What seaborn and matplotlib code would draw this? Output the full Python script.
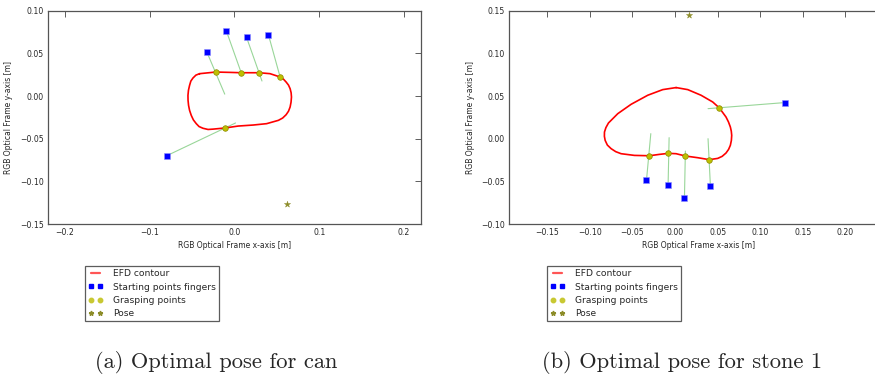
import numpy as np
import pandas as pd
import matplotlib
matplotlib.use("Agg")
import matplotlib.pyplot as plt
import seaborn as sns
from matplotlib.lines import Line2D

# ---------------- data: (a) can ----------------
can_contour_x = [-0.0411, -0.0221, -0.0055, 0.0079, 0.0289, 0.0419, 0.0538, 0.0578, 0.0609, 0.0637,
                 0.0656, 0.0668, 0.0672, 0.0667, 0.0656, 0.0637, 0.0609, 0.0568, 0.0518, 0.0379,
                 0.0221, 0.0043, -0.0115, -0.0253, -0.0312, -0.0372, -0.0418, -0.0451, -0.0485,
                 -0.0510, -0.0530, -0.0542, -0.0548, -0.0549, -0.0543, -0.0530, -0.0515, -0.0490,
                 -0.0455, -0.0411]
can_contour_y = [0.0262, 0.0281, 0.0277, 0.0273, 0.0273, 0.0262, 0.0223, 0.0197, 0.0164, 0.0128,
                 0.0086, 0.0038, -0.0012, -0.0072, -0.0129, -0.0178, -0.0219, -0.0258, -0.0285, -0.0324,
                 -0.0340, -0.0352, -0.0375, -0.0388, -0.0392, -0.0378, -0.0358, -0.0324, -0.0280,
                 -0.0227, -0.0168, -0.0109, -0.0050, 0.0008, 0.0068, 0.0125, 0.0175, 0.0211,
                 0.0245, 0.0262]
can_start_x = [-0.0328, -0.0095, 0.0142, 0.0400, -0.0800]
can_start_y = [0.0520, 0.0760, 0.0688, 0.0719, -0.0700]
can_grasp_x = [-0.0221, 0.0079, 0.0289, 0.0538, -0.0115]
can_grasp_y = [0.0281, 0.0273, 0.0273, 0.0223, -0.0375]
can_end_x = [-0.0115, 0.0079, 0.0324, 0.0538, 0.0012]
can_end_y = [0.0022, 0.0273, 0.0176, 0.0223, -0.0316]
can_pose_x = [0.0620]
can_pose_y = [-0.1260]

# ---------------- data: (b) stone 1 ----------------
stone_contour_x = [0.0012, 0.0149, 0.0305, 0.0442, 0.0520, 0.0598, 0.0627, 0.0649, 0.0660, 0.0665,
                   0.0661, 0.0649, 0.0628, 0.0598, 0.0553, 0.0501, 0.0403, 0.0266, 0.0121, 0.0012,
                   -0.0078, -0.0184, -0.0301, -0.0477, -0.0634, -0.0697, -0.0751, -0.0795, -0.0821,
                   -0.0830, -0.0829, -0.0812, -0.0782, -0.0673, -0.0516, -0.0321, -0.0145, 0.0012]
stone_contour_y = [0.0599, 0.0575, 0.0509, 0.0430, 0.0360, 0.0254, 0.0196, 0.0137, 0.0088, 0.0039,
                   -0.0020, -0.0078, -0.0126, -0.0168, -0.0207, -0.0231, -0.0246, -0.0223, -0.0203, -0.0176,
                   -0.0172, -0.0184, -0.0200, -0.0196, -0.0176, -0.0152, -0.0117, -0.0075, -0.0020,
                   0.0028, 0.0078, 0.0130, 0.0184, 0.0293, 0.0403, 0.0509, 0.0575, 0.0599]
stone_start_x = [-0.0336, -0.0082, 0.0110, 0.0415, 0.1287]
stone_start_y = [-0.0489, -0.0540, -0.0696, -0.0556, 0.0423]
stone_grasp_x = [-0.0301, -0.0078, 0.0121, 0.0403, 0.0520]
stone_grasp_y = [-0.0200, -0.0172, -0.0203, -0.0246, 0.0360]
stone_end_x = [-0.0285, -0.0070, 0.0121, 0.0387, 0.0387]
stone_end_y = [0.0059, 0.0012, -0.0145, 0.0000, 0.0352]
stone_pose_x = [0.0164]
stone_pose_y = [0.1451]

legend_labels = ["EFD contour", "Starting points fingers", "Grasping points", "Pose"]
captions = ["(a) Optimal pose for can", "(b) Optimal pose for stone 1"]

sns.set_style("white")
plt.rcParams["font.family"] = ["DejaVu Sans"]

fig = plt.figure(figsize=(8.75, 3.74), dpi=100)
axL = fig.add_axes([48 / 875, 150 / 374, 373 / 875, 213.3 / 374])
axR = fig.add_axes([509 / 875, 150 / 374, 379 / 875, 213.3 / 374])

C_RED = "#ff0000"
C_BLUE = "#0000ff"
C_GRASP = "#bfbf00"
C_GRASP_E = "#8a8a00"
C_POSE = "#8c8c28"
C_GREEN = "#99d699"


def draw(ax, cx, cy, sx, sy, gx, gy, ex, ey, px, py, ylab_x):
    for i in range(len(sx)):
        seg = pd.DataFrame({"x": [sx[i], ex[i]], "y": [sy[i], ey[i]]})
        sns.lineplot(data=seg, x="x", y="y", ax=ax, sort=False, color=C_GREEN,
                     lw=0.8, estimator=None, zorder=2)
    cdf = pd.DataFrame({"x": cx, "y": cy})
    sns.lineplot(data=cdf, x="x", y="y", ax=ax, sort=False, color=C_RED, lw=1.2,
                 estimator=None, zorder=3)
    sns.scatterplot(x=sx, y=sy, ax=ax, marker="s", color=C_BLUE, s=16,
                    edgecolor="#9090ff", linewidth=0.4, zorder=4)
    sns.scatterplot(x=gx, y=gy, ax=ax, marker="o", color=C_GRASP, s=16,
                    edgecolor=C_GRASP_E, linewidth=0.5, zorder=5)
    sns.scatterplot(x=px, y=py, ax=ax, marker="*", color=C_POSE, s=22,
                    edgecolor=C_POSE, linewidth=0.3, zorder=5)
    ax.set_xlabel("RGB Optical Frame x-axis [m]", fontsize=5.5, labelpad=3)
    ax.set_ylabel("RGB Optical Frame y-axis [m]", fontsize=5.5)
    ax.yaxis.set_label_coords(ylab_x, 0.5)
    ax.tick_params(direction="in", top=True, right=True, labelsize=5.6, length=4,
                   width=0.6, color="#444444", pad=3)
    for sp in ax.spines.values():
        sp.set_color("#555555")
        sp.set_linewidth(0.9)


draw(axL, can_contour_x, can_contour_y, can_start_x, can_start_y, can_grasp_x, can_grasp_y,
     can_end_x, can_end_y, can_pose_x, can_pose_y, (13 - 48) / 373)
draw(axR, stone_contour_x, stone_contour_y, stone_start_x, stone_start_y, stone_grasp_x,
     stone_grasp_y, stone_end_x, stone_end_y, stone_pose_x, stone_pose_y, (475 - 509) / 379)

axL.set_xlim(-0.22, 0.22)
axL.set_ylim(-0.15, 0.10)
axL.set_xticks([-0.2, -0.1, 0.0, 0.1, 0.2])
axL.set_yticks([-0.15, -0.10, -0.05, 0.00, 0.05, 0.10])
axL.set_xticklabels(["\u22120.2", "\u22120.1", "0.0", "0.1", "0.2"])
axL.set_yticklabels(["\u22120.15", "\u22120.10", "\u22120.05", "0.00", "0.05", "0.10"])

axR.set_xlim(-0.195, 0.25)
axR.set_ylim(-0.10, 0.15)
axR.set_xticks([-0.15, -0.10, -0.05, 0.0, 0.05, 0.10, 0.15, 0.20])
axR.set_xticklabels(["\u22120.15", "\u22120.10", "\u22120.05", "0.00", "0.05", "0.10", "0.15", "0.20"])
axR.set_yticks([-0.10, -0.05, 0.00, 0.05, 0.10, 0.15])
axR.set_yticklabels(["\u22120.10", "\u22120.05", "0.00", "0.05", "0.10", "0.15"])

handles = [
    Line2D([0], [0], color="#ff5555", lw=1.6),
    Line2D([0], [0], color=C_BLUE, marker="s", ls="none", ms=3),
    Line2D([0], [0], color="#c8c832", marker="o", ls="none", ms=3.2, mec="#c8c832"),
    Line2D([0], [0], color=C_POSE, marker="*", ls="none", ms=3.5),
]
for xa in (85 / 875, 547 / 875):
    leg = fig.legend(handles, legend_labels, loc="upper left",
                     bbox_to_anchor=(xa, 1 - 266 / 374), fontsize=6.6, numpoints=2,
                     frameon=True, fancybox=False, handlelength=1.6, handletextpad=1.1,
                     borderpad=0.35, labelspacing=0.47, borderaxespad=0)
    leg.get_frame().set_edgecolor("#333333")
    leg.get_frame().set_linewidth(0.9)

for xc, cap in zip((216 / 875, 682 / 875), captions):
    fig.text(xc, 1 - 362 / 374, cap, ha="center", va="center", fontsize=16.2,
             family=["cmr10", "DejaVu Serif"])

fig.savefig("out.png", dpi=100)
